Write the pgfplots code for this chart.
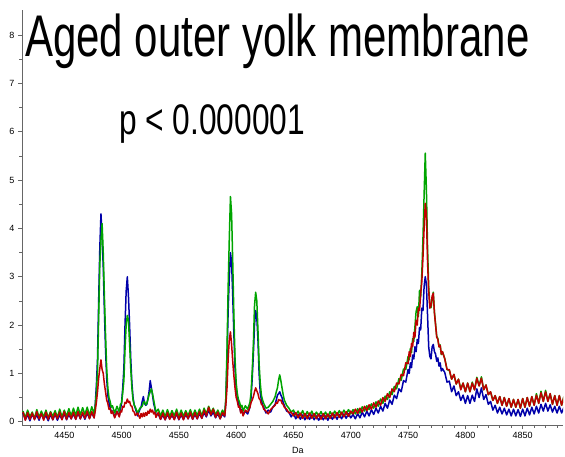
\documentclass[border=0pt]{standalone}
\usepackage{graphicx}
\usepackage{pgfplots}
\pgfplotsset{compat=1.18}
\usepackage{pgfplotstable}
\usepackage{fontspec}
\setmainfont{Liberation Sans}
\definecolor{specblue}{RGB}{0,0,170}
\definecolor{specgreen}{RGB}{0,165,0}
\definecolor{specred}{RGB}{190,0,0}

\pgfplotstableread{
x b g r
4414 .18 .22 .20
4416 .04 .08 .03
4418 .15 .24 .19
4420 .02 .10 .05
4422 .16 .20 .18
4424 .05 .07 .04
4426 .14 .25 .21
4428 .03 .09 .06
4430 .17 .22 .17
4432 .06 .10 .03
4434 .13 .24 .20
4436 .02 .08 .05
4438 .15 .21 .19
4440 .04 .11 .04
4442 .16 .23 .18
4444 .03 .09 .06
4446 .14 .26 .20
4448 .05 .10 .04
4450 .17 .24 .21
4452 .04 .11 .05
4454 .15 .27 .19
4456 .06 .12 .06
4458 .16 .28 .20
4460 .05 .13 .05
4462 .18 .30 .21
4464 .06 .14 .06
4466 .17 .29 .20
4468 .05 .15 .07
4470 .18 .30 .22
4472 .07 .13 .06
4474 .19 .31 .21
4476 .08 .16 .08
4477 .35 .33 .22
4478 .75 .60 .40
4479 1.30 1.05 .62
4480 2.50 2.15 .90
4481 3.60 3.25 1.10
4482 4.30 3.75 1.28
4483 3.85 4.10 1.08
4484 3.20 3.50 1.00
4485 2.30 2.60 .78
4486 1.50 1.80 .62
4487 .90 1.10 .45
4488 .55 .70 .38
4489 .40 .50 .26
4490 .30 .42 .28
4491 .20 .30 .17
4492 .22 .33 .22
4494 .10 .18 .08
4496 .22 .32 .21
4498 .12 .20 .10
4499 .25 .36 .22
4500 .40 .38 .20
4501 .70 .60 .32
4502 1.10 .85 .30
4503 2.00 1.50 .40
4504 2.70 2.00 .38
4505 3.00 2.20 .47
4506 2.60 2.10 .40
4507 2.00 1.60 .42
4508 1.30 1.10 .33
4509 .80 .70 .32
4510 .50 .45 .22
4511 .35 .35 .20
4512 .28 .30 .13
4514 .12 .18 .18
4516 .26 .28 .07
4517 .30 .30 .17
4518 .42 .32 .10
4519 .52 .40 .18
4520 .38 .42 .11
4521 .34 .35 .19
4522 .36 .38 .13
4523 .48 .46 .22
4524 .62 .56 .17
4525 .85 .62 .26
4526 .70 .68 .20
4527 .55 .58 .24
4528 .38 .45 .16
4529 .28 .32 .20
4530 .14 .20 .09
4532 .16 .26 .19
4534 .05 .12 .05
4536 .14 .24 .18
4538 .04 .10 .04
4540 .15 .25 .19
4542 .06 .11 .05
4544 .13 .23 .17
4546 .05 .12 .04
4548 .16 .26 .20
4550 .04 .10 .05
4552 .14 .24 .18
4554 .05 .11 .04
4556 .15 .23 .19
4558 .06 .12 .06
4560 .16 .25 .20
4562 .05 .11 .05
4564 .15 .24 .19
4566 .06 .13 .06
4568 .17 .26 .21
4570 .07 .12 .07
4572 .19 .28 .24
4574 .10 .16 .12
4576 .24 .32 .30
4578 .12 .18 .14
4580 .20 .28 .26
4582 .08 .14 .09
4584 .17 .24 .20
4586 .06 .12 .06
4588 .16 .24 .19
4590 .10 .16 .12
4591 .45 .50 .35
4592 1.30 1.50 .70
4593 2.30 2.80 1.30
4594 3.00 3.80 1.70
4595 3.50 4.66 1.86
4596 3.30 4.30 1.60
4597 2.60 3.30 1.25
4598 1.80 2.20 .95
4599 1.10 1.30 .70
4600 .70 .80 .50
4601 .50 .58 .42
4602 .38 .46 .30
4603 .30 .40 .32
4604 .20 .30 .18
4605 .26 .34 .24
4606 .14 .22 .12
4608 .22 .33 .24
4610 .16 .26 .20
4612 .30 .40 .30
4613 .50 .60 .40
4614 .90 1.05 .45
4615 1.40 1.60 .52
4616 2.00 2.40 .62
4617 2.30 2.68 .70
4618 2.15 2.50 .64
4619 1.70 1.90 .58
4620 1.00 1.20 .48
4621 .60 .80 .45
4622 .45 .55 .36
4623 .35 .45 .34
4624 .30 .38 .26
4626 .18 .28 .22
4628 .24 .30 .16
4630 .20 .36 .25
4632 .30 .42 .30
4634 .36 .52 .34
4635 .45 .62 .40
4636 .55 .70 .38
4637 .58 .86 .46
4638 .62 .97 .44
4639 .55 .85 .45
4640 .50 .70 .38
4641 .40 .56 .36
4642 .34 .45 .30
4644 .22 .34 .26
4646 .20 .28 .18
4648 .10 .20 .20
4650 .18 .24 .12
4652 .06 .14 .19
4654 .15 .22 .08
4656 .05 .12 .18
4658 .14 .23 .07
4660 .04 .11 .17
4662 .13 .21 .06
4664 .05 .12 .18
4666 .14 .22 .07
4668 .04 .10 .17
4670 .12 .20 .06
4672 .03 .12 .16
4674 .13 .21 .05
4676 .04 .11 .17
4678 .12 .20 .06
4680 .03 .10 .16
4682 .13 .21 .07
4684 .05 .12 .18
4686 .14 .22 .08
4688 .05 .13 .19
4690 .15 .23 .09
4692 .06 .14 .20
4694 .16 .24 .10
4696 .07 .15 .21
4698 .17 .25 .11
4700 .08 .16 .22
4702 .15 .25 .16
4704 .06 .16 .26
4706 .17 .27 .17
4708 .08 .18 .28
4710 .20 .31 .20
4712 .10 .22 .32
4714 .22 .33 .23
4716 .12 .25 .35
4718 .25 .37 .26
4720 .15 .28 .39
4722 .28 .41 .30
4724 .18 .32 .43
4726 .32 .47 .34
4728 .22 .38 .50
4730 .38 .53 .42
4732 .28 .46 .58
4734 .45 .62 .50
4736 .36 .56 .68
4738 .55 .73 .62
4740 .48 .68 .80
4742 .68 .89 .78
4744 .62 .86 .98
4746 .85 1.09 .95
4748 .82 1.08 1.22
4750 1.08 1.35 1.20
4751 1.00 1.28 1.45
4752 1.22 1.52 1.35
4753 1.12 1.43 1.62
4754 1.38 1.72 1.55
4755 1.30 1.66 1.85
4756 1.55 1.97 1.75
4757 1.45 2.28 2.10
4758 1.70 2.38 2.00
4759 1.62 2.18 2.35
4760 1.95 2.72 2.30
4761 1.90 2.58 2.65
4762 2.35 3.08 2.90
4763 2.30 3.80 3.40
4764 2.80 4.70 4.00
4765 3.00 5.56 4.52
4766 2.85 4.80 4.30
4767 2.20 3.60 3.30
4768 1.55 2.78 2.70
4769 1.35 2.42 2.35
4770 1.30 2.36 2.40
4771 1.55 2.52 2.60
4772 1.60 2.68 2.66
4773 1.45 2.27 2.25
4774 1.40 2.02 2.00
4775 1.25 1.77 1.75
4776 1.32 1.72 1.70
4777 1.15 1.55 1.55
4778 1.22 1.59 1.58
4779 1.05 1.39 1.40
4780 1.10 1.45 1.45
4782 1.02 1.31 1.30
4784 .82 1.08 1.08
4786 .84 1.06 1.08
4788 .62 .88 .88
4790 .74 .98 .98
4792 .54 .78 .78
4794 .62 .88 .88
4796 .44 .68 .66
4798 .55 .80 .80
4800 .38 .62 .62
4802 .54 .80 .80
4804 .38 .62 .62
4806 .55 .82 .80
4808 .42 .66 .66
4810 .68 .92 .90
4812 .50 .74 .74
4814 .70 .93 .90
4816 .46 .66 .66
4818 .56 .76 .76
4820 .36 .56 .56
4822 .42 .62 .62
4824 .24 .44 .44
4826 .34 .54 .54
4828 .18 .38 .38
4830 .30 .52 .52
4832 .16 .34 .34
4834 .28 .50 .50
4836 .14 .32 .32
4838 .26 .48 .48
4840 .12 .30 .30
4842 .26 .46 .46
4844 .12 .30 .30
4846 .25 .46 .46
4848 .11 .28 .28
4850 .26 .48 .48
4852 .12 .30 .30
4854 .28 .50 .50
4856 .14 .32 .32
4858 .30 .52 .52
4860 .16 .34 .34
4862 .32 .58 .55
4864 .18 .38 .38
4866 .36 .63 .60
4868 .22 .42 .42
4870 .38 .65 .62
4872 .22 .42 .42
4874 .35 .58 .58
4876 .20 .36 .36
4878 .32 .54 .54
4880 .18 .34 .34
4882 .32 .54 .54
4884 .18 .34 .34
4886 .30 .52 .52
}\spec

\begin{document}
\begin{tikzpicture}[x=1pt,y=1pt]
\useasboundingbox (0,0) rectangle (565,456);
\begin{axis}[
  at={(22pt,31pt)}, anchor=south west,
  scale only axis, width=541pt, height=415pt,
  xmin=4413.1, xmax=4885.2, ymin=-0.068, ymax=8.52,
  axis x line*=bottom, axis y line*=left,
  axis line style={-, black!60, line width=0.8pt},
  xtick={4450,4500,...,4850},
  minor xtick={4420,4430,...,4880},
  ytick={0,1,...,8},
  minor ytick={0.5,1.5,...,7.5},
  tick align=outside,
  major tick length=4pt, minor tick length=2.5pt,
  tick style={black!60, line width=0.6pt},
  ticklabel style={font=\fontsize{9}{9}\selectfont},
  /pgf/number format/assume math mode=true,
  /pgf/number format/set thousands separator={},
  xlabel={Da},
  xlabel style={font=\fontsize{9}{9}\selectfont, at={(axis description cs:0.51,0)}, anchor=center, yshift=-25.7pt},
  no markers,
  every axis plot/.append style={line width=1.5pt, line join=round},
]
\addplot[specblue] table[x=x,y=b]{\spec};
\addplot[specgreen] table[x=x,y=g]{\spec};
\addplot[specred] table[x=x,y=r]{\spec};
\end{axis}
\node[anchor=base west, inner sep=0pt] at (25,399) {\scalebox{1}[1.4]{\fontsize{42}{42}\selectfont Aged outer yolk membrane}};
\node[anchor=base west, inner sep=0pt] at (119,321) {\scalebox{1}[1.35]{\fontsize{31.7}{32}\selectfont p < 0.000001}};
\end{tikzpicture}
\end{document}
